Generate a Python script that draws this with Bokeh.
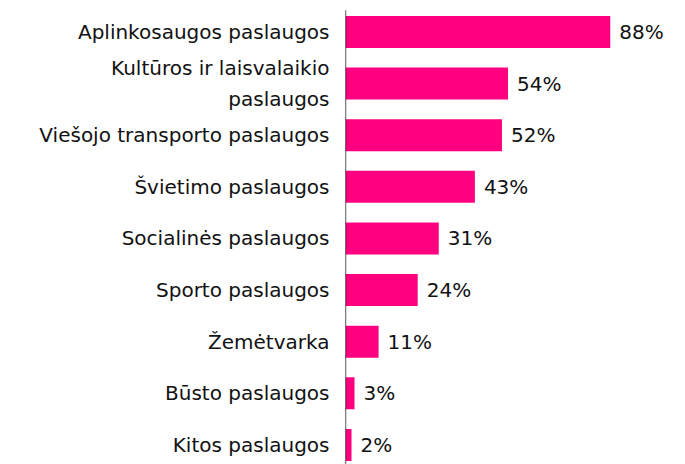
from bokeh.plotting import figure
from bokeh.models import ColumnDataSource, Range1d, LabelSet, FixedTicker
from bokeh.core.properties import value
from bokeh.embed import file_html
from bokeh.resources import INLINE

categories = ["Aplinkosaugos paslaugos", "Kultūros ir laisvalaikio\npaslaugos",
              "Viešojo transporto paslaugos", "Švietimo paslaugos",
              "Socialinės paslaugos", "Sporto paslaugos", "Žemėtvarka",
              "Būsto paslaugos", "Kitos paslaugos"]
values = [88, 54, 52, 43, 31, 24, 11, 3, 2]
value_labels = [f"{v}%" for v in values]

pos = list(range(len(categories)))
src = ColumnDataSource(dict(y=pos, v=values, lab=value_labels))

p = figure(width=685, height=464, output_backend="svg", toolbar_location=None,
           x_range=Range1d(0, 113.0), y_range=Range1d(8.38, -0.61),
           min_border_left=345, min_border_right=0, min_border_top=0, min_border_bottom=0)
p.hbar(y="y", right="v", left=0, height=0.62, source=src, color="#FF0080", line_color=None)
p.segment(x0=[0], x1=[0], y0=[-0.42], y1=[8.38], line_color="black", line_width=1.3)

font = "DejaVu Sans"
val_labels = LabelSet(x="v", y="y", text="lab", source=src, x_offset=9,
                      text_align="left", text_baseline="middle", text_font=value(font),
                      text_font_size=value("20px"), text_color="#111111")
p.add_layout(val_labels)

p.xaxis.visible = False
ya = p.yaxis[0]
ya.ticker = FixedTicker(ticks=pos)
ya.major_label_overrides = {i: c for i, c in zip(pos, categories)}
ya.axis_line_color = None
ya.major_tick_line_color = None
ya.minor_tick_line_color = None
ya.major_label_standoff = 10
ya.major_label_text_font = font
ya.major_label_text_font_size = "20px"
ya.major_label_text_color = "#111111"
ya.major_label_text_line_height = 1.3
p.grid.visible = False
p.outline_line_color = None

open("out.html", "w").write(file_html(p, INLINE))
